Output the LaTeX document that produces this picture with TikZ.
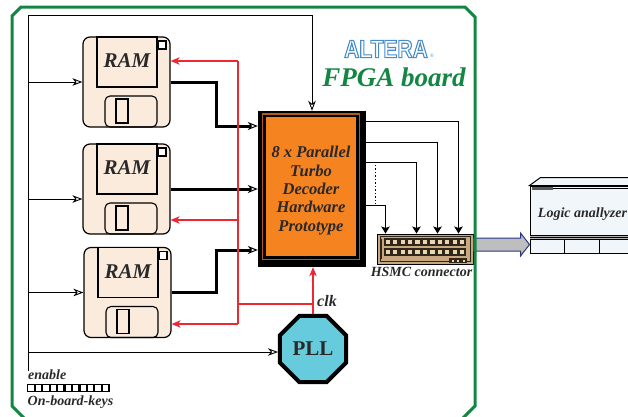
\documentclass[tikz,border=0pt]{standalone}
\usepackage{fontspec}
\setmainfont{Liberation Serif}
\newfontfamily\logofont{Liberation Sans}[FakeStretch=0.84]
\usetikzlibrary{arrows.meta,calc,shapes.geometric}

\definecolor{boardgreen}{RGB}{18,134,66}
\definecolor{chiporange}{RGB}{244,131,32}
\definecolor{chipbrown}{RGB}{176,92,24}
\definecolor{ramfill}{RGB}{250,235,220}
\definecolor{pllcyan}{RGB}{102,204,221}
\definecolor{clkred}{RGB}{238,40,50}
\definecolor{inkgray}{RGB}{42,40,40}
\definecolor{logoblue}{RGB}{70,140,200}
\definecolor{hsmctan}{RGB}{200,168,128}
\definecolor{pindark}{RGB}{50,38,26}
\definecolor{pinlight}{RGB}{232,214,176}
\definecolor{panelblue}{RGB}{241,246,251}
\definecolor{busnavy}{RGB}{40,52,138}
\definecolor{busgray}{RGB}{190,190,190}

\tikzset{
  wire/.style={draw=black, line width=0.9pt},
  openhead/.style={-{Stealth[open,length=10pt,width=7.5pt,inset=3pt,line width=0.9pt]}},
  fatwire/.style={draw=black, line width=3pt},
  fathead/.style={-{Stealth[open,length=10pt,width=8pt,inset=3pt,line width=1pt]}},
  clkwire/.style={draw=clkred, line width=1.1pt},
  clkhead/.style={-{Stealth[length=9pt,width=7.5pt,inset=2.5pt]}},
  outhead/.style={-{Stealth[length=7pt,width=8.5pt,inset=1.5pt]}},
  lbl/.style={text=inkgray, inner sep=0pt},
  ramdisk/.style={draw=black, line width=1.2pt, fill=ramfill, rounded corners=7pt,
    minimum width=87pt, minimum height=90pt, inner sep=0pt},
  ramtxt/.style={lbl, font=\fontsize{21}{21}\selectfont\bfseries\itshape},
  logotxt/.style={inner sep=0pt, font=\logofont\fontsize{25}{25}\selectfont\bfseries},
}

% floppy-disk details drawn around a RAM node
\newcommand\ramdetails[1]{%
  \begin{scope}[shift={(#1.center)}]
    \draw[line width=1.1pt, fill=ramfill] (-29.5,-45) rectangle (30.5,5);
    \draw[line width=1.1pt, fill=white] (31.5,-41) rectangle (39.5,-33);
    \draw[line width=1.1pt, rounded corners=5pt] (-21.5,14) rectangle (30.5,45);
    \draw[line width=1.1pt] (-10.5,17) rectangle (1.5,41);
  \end{scope}}

% outlined lettering: white fill, blue stroke (PDF text render mode 2)
\newcommand\outlinedtext[1]{%
  \special{pdf:code 2 Tr 1.1 w 0.275 0.549 0.784 RG 1 1 1 rg}#1\special{pdf:code 0 Tr}}

\begin{document}
\begin{tikzpicture}[x=1pt,y=-1pt]
\useasboundingbox (0,0) rectangle (628,416);

% ---------- RAM blocks ----------
\node[ramdisk] (ram1) at (126.5,82) {};
\node[ramdisk] (ram2) at (126.5,189) {};
\node[ramdisk] (ram3) at (127.5,292.5) {};
\ramdetails{ram1}\ramdetails{ram2}\ramdetails{ram3}
\foreach \r in {1,2,3}
  \node[ramtxt] (ramlabel\r) at ($(ram\r.center)+(0.5,-21)$) {RAM};

% ---------- turbo decoder ----------
\node[fill=black, minimum width=108pt, minimum height=156pt, inner sep=0pt] (dec) at (312,189) {};
\draw[chipbrown, line width=1.2pt] ($(dec.north west)+(5,3.2)$) rectangle ($(dec.north west)+(101.5,149)$);
\draw[black, line width=1pt, fill=chiporange] ($(dec.north west)+(7.5,5.5)$) rectangle ($(dec.north west)+(98.5,146)$);
\node[lbl, align=center, font=\fontsize{16.5}{18.3}\selectfont\bfseries\itshape] (dectxt)
  at ($(dec.center)+(-1,1.5)$) {8 x Parallel\\Turbo\\Decoder\\Hardware\\Prototype};

% ---------- PLL ----------
\node[regular polygon, regular polygon sides=8, minimum size=71.5pt, inner sep=0pt,
  draw=black, line width=4pt, fill=pllcyan, text=inkgray,
  font=\fontsize{21}{21}\selectfont\bfseries] (pll) at (313,349) {PLL};
\node[lbl, anchor=base west, font=\fontsize{16}{16}\selectfont\bfseries\itshape] (clklbl) at (317,306) {clk};

% ---------- HSMC connector ----------
\node[draw=black, line width=1pt, fill=hsmctan, minimum width=96pt, minimum height=30pt, inner sep=0pt] (hsmc) at (425,249) {};
\begin{scope}[shift={(hsmc.center)}]
  \draw[pindark, line width=0.6pt] (-45,-12.5) rectangle (45,12.5);
  \fill[pindark] (-45,-10) rectangle (-43.5,10);
  \foreach \yy in {-7,3} {
    \fill[pindark] (-41,\yy-4.3) rectangle (41,\yy+4.3);
    \foreach \i in {0,...,10}
      \fill[pinlight] (-39.4+\i*7.45,\yy-2.1) rectangle (-35.2+\i*7.45,\yy+2.1);
  }
  \fill[pindark] (24,9) rectangle (42,14);
  \foreach \i in {0,1,2}
    \fill[pinlight] (26.5+\i*5.6,10.5) rectangle (28.5+\i*5.6,12.5);
\end{scope}
\node[lbl, anchor=base, font=\fontsize{14}{14}\selectfont\bfseries\itshape] (hsmctxt) at (421.5,276) {HSMC connector};

% ---------- logic analyzer ----------
\node[draw=black, line width=1pt, fill=panelblue, minimum width=104pt, minimum height=67pt, inner sep=0pt] (ana) at (582,219.5) {};
\begin{scope}[shift={(ana.north west)}]
  \draw[line width=1pt, fill=panelblue] (0,0) -- (11,-8) -- (110,-8) -- (110,0) -- cycle;
  \fill[gray!70!black] (2.5,1.5) rectangle (23,4.5);
  \draw[line width=0.6pt] (23,3) -- (110,3);
  \fill[black] (0,49) rectangle (110,54);
  \draw[gray!60, line width=0.5pt] (0,50.7) -- (110,50.7) (0,52.4) -- (110,52.4);
  \draw[line width=1pt] (35,54) -- (35,67) (70,54) -- (70,67);
\end{scope}
\node[lbl, anchor=base, font=\fontsize{14}{14}\selectfont\bfseries\itshape] (anatxt) at (582.5,217) {Logic anallyzer};

% wide bus from the connector to the analyzer
\coordinate (busfrom) at ($(hsmc.east)+(0,-4.5)$);
\coordinate (busto) at ($(ana.west)+(0,25)$);
\draw[busnavy, line width=1pt, fill=busgray, line join=miter]
  ($(busfrom)+(0,-6.5)$) -- ($(busto)+(-9,-6.5)$) -- ($(busto)+(-9,-11.5)$) -- (busto)
  -- ($(busto)+(-9,11.5)$) -- ($(busto)+(-9,6.5)$) -- ($(busfrom)+(0,6.5)$);

% ---------- on-board keys ----------
\node[fill=black, minimum width=83pt, minimum height=8pt, inner sep=0pt] (keys) at (68.5,388) {};
\foreach \i in {0,...,10}
  \fill[white] ($(keys.west)+(1.6+\i*7.45,-2.6)$) rectangle ($(keys.west)+(6.8+\i*7.45,2.6)$);
\node[lbl, anchor=base west, font=\fontsize{14}{14}\selectfont\bfseries\itshape] (enablelbl) at (28,379) {enable};
\node[lbl, anchor=base west, font=\fontsize{14}{14}\selectfont\bfseries\itshape] (keyslbl) at (27.5,405) {On-board-keys};

% ---------- black control wires ----------
\coordinate (topleft) at (28,15);
\coordinate (leftend) at (28,371);
\draw[wire] (leftend) -- (topleft);
\draw[wire, openhead] (topleft) -| (dec.north);
\draw[wire, openhead] (topleft |- ram1.west) -- (ram1.west);
\draw[wire, openhead] ($(topleft |- ram2.west)+(0,10)$) -- ($(ram2.west)+(0,10)$);
\draw[wire, openhead] (topleft |- ram3.west) -- (ram3.west);
\draw[wire, openhead] ($(topleft |- pll.west)+(0,3)$) -- ($(pll.west)+(0,3)$);

% RAM data into the decoder
\draw[fatwire, fathead] (ram1.east) -- ++(46,0) |- ($(dec.west)+(0,-63)$);
\draw[fatwire, fathead] (ram2.east) -- (dec.west |- ram2.east);
\draw[fatwire, fathead] (ram3.east) -- ++(45,0) |- ($(dec.west)+(0,61)$);

% decoder outputs to the connector
\foreach \dy/\dx in {11/82, 32/61, 52/40, 95/9}
  \draw[wire, outhead] ($(dec.north east)+(0,\dy)$) -| ($(hsmc.north west)+(\dx,0)$);
\draw[black, line width=1.2pt, dash pattern=on 1.2pt off 2.3pt] ($(dec.north east)+(9,54)$) -- ($(dec.north east)+(9,93)$);

% ---------- clock distribution ----------
\coordinate (bustop) at (238,61);
\coordinate (busmid) at (238,220);
\coordinate (busbot) at (238,324);
\coordinate (bustap) at (238,304);
\draw[clkwire] (bustop) -- (busbot);
\draw[clkwire, clkhead] (bustop) -- (bustop -| ram1.east);
\draw[clkwire, clkhead] (busmid) -- (busmid -| ram2.east);
\draw[clkwire, clkhead] (busbot) -- (busbot -| ram3.east);
\draw[clkwire] (bustap) -- (bustap -| pll.north);
\draw[clkwire, clkhead] (pll.north) -- (dec.south -| pll.north);

% ---------- board outline and title ----------
\draw[boardgreen, line width=3pt, line join=miter]
  (21,7) -- (465,7) -- (475,17) -- (475,406) -- (461,420) -- (26,420) -- (12,406) -- (12,16) -- cycle;
\node[logotxt] (logo) at (386,49) {\outlinedtext{ALTERA}};
\node[inner sep=0pt, text=logoblue, font=\logofont\fontsize{5}{5}\selectfont] (logoreg) at (432,56) {®};
\node[anchor=base, inner sep=0pt, text=boardgreen, font=\fontsize{27}{27}\selectfont\bfseries\itshape] (boardlbl) at (394,86) {FPGA board};
\end{tikzpicture}
\end{document}
